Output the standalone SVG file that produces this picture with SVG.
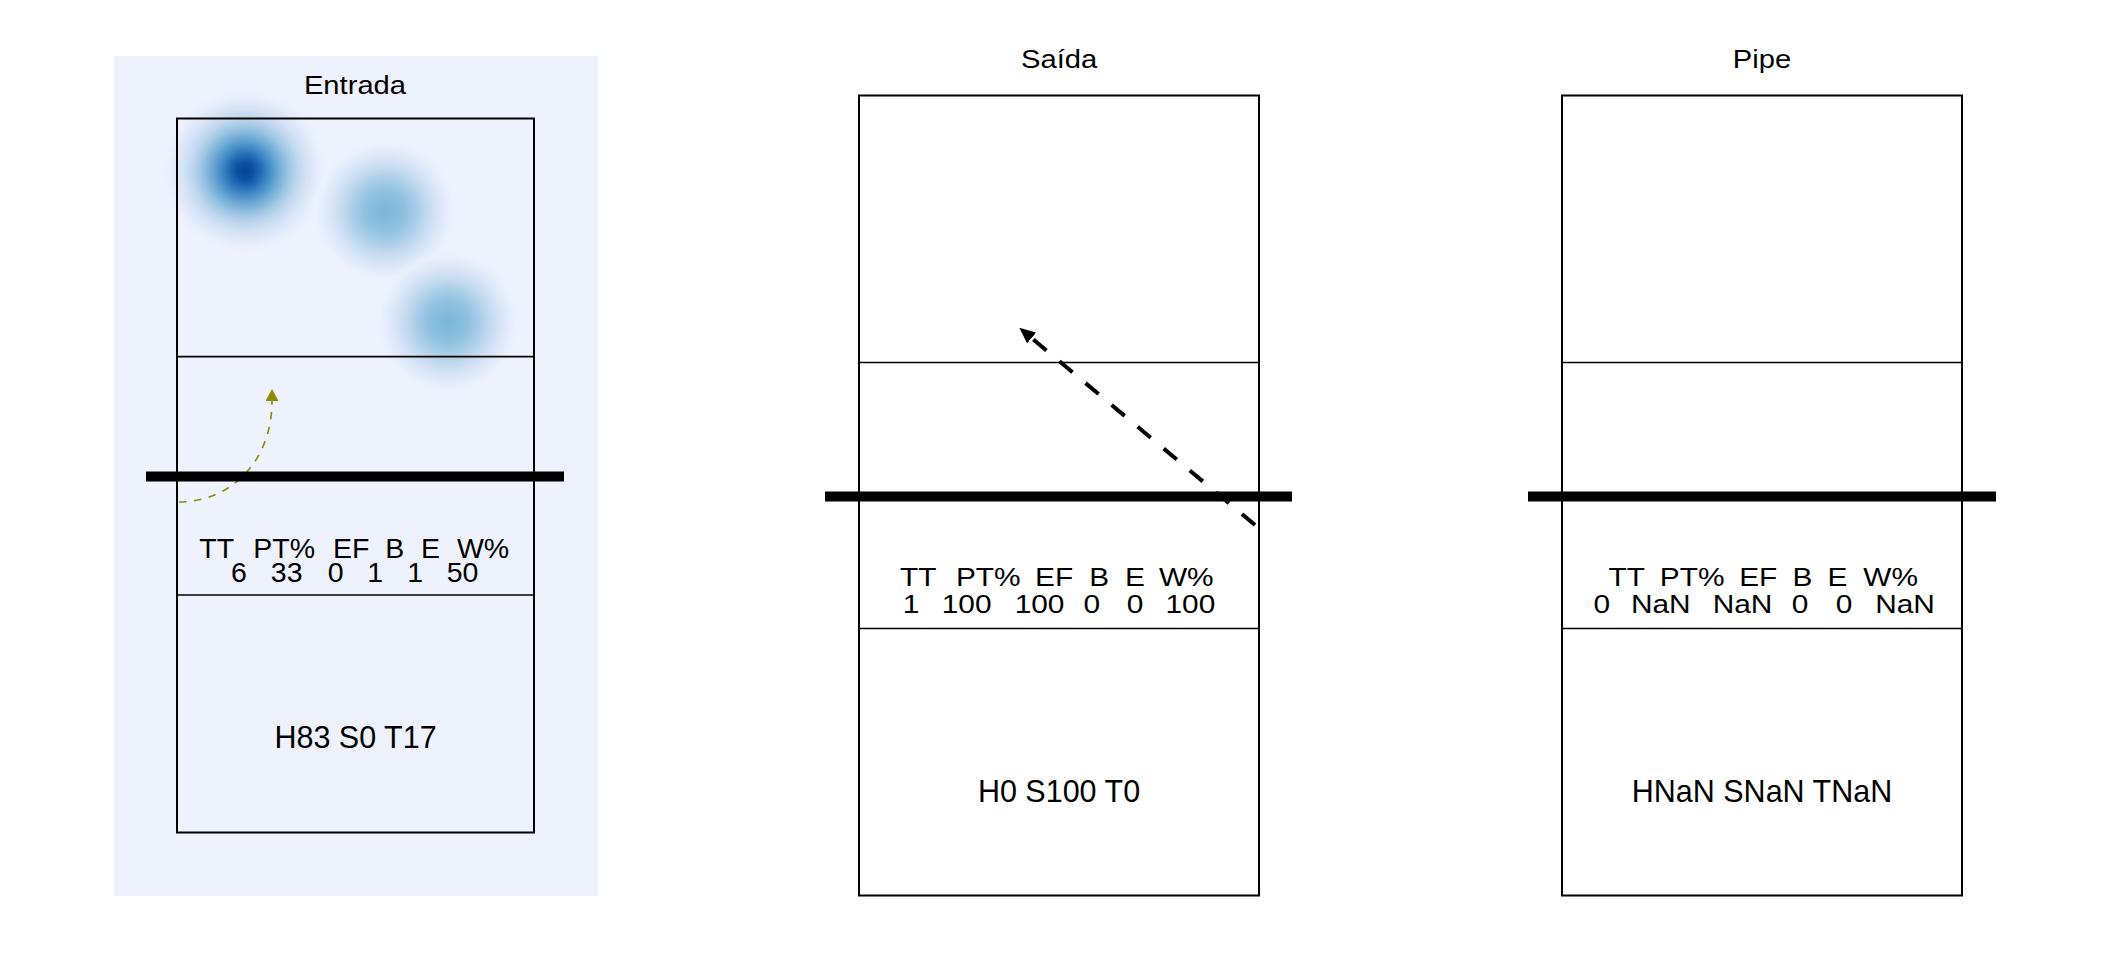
<svg xmlns="http://www.w3.org/2000/svg" width="2112" height="960" viewBox="0 0 2112 960">
<style>
  .bg { fill: #EEF2FD; }
  .court { fill: none; stroke: #000; stroke-width: 2; }
  .line3 { stroke: #000; stroke-width: 1.7; }
  .net { stroke: #000; stroke-width: 10; }
  .title { font-family: "Liberation Sans", Arial, sans-serif; font-size: 26.5px; fill: #000; text-anchor: middle; }
  .stat { font-family: "Liberation Sans", Arial, sans-serif; font-size: 28.5px; fill: #000; text-anchor: middle; }
  .stat2 { font-family: "Liberation Sans", Arial, sans-serif; font-size: 25.5px; fill: #000; text-anchor: middle; }
  .zone { font-family: "Liberation Sans", Arial, sans-serif; font-size: 30.5px; fill: #000; text-anchor: middle; }
  .olive { fill: none; stroke: #8E8C00; stroke-width: 1.6; stroke-dasharray: 7.5 7.5; }
  .black { fill: none; stroke: #000; stroke-width: 4; stroke-dasharray: 17 17; }
</style>
<defs>
  <radialGradient id="blobDark">
    <stop offset="0" stop-color="#06449A"/>
    <stop offset="0.09" stop-color="#0B4E9F"/>
    <stop offset="0.18" stop-color="#2068B0"/>
    <stop offset="0.27" stop-color="#3F86C4"/>
    <stop offset="0.39" stop-color="#6BA9D4"/>
    <stop offset="0.52" stop-color="#9DC6E2"/>
    <stop offset="0.63" stop-color="#BFD7EE"/>
    <stop offset="0.74" stop-color="#D5E3F5"/>
    <stop offset="0.86" stop-color="#E5ECFA"/>
    <stop offset="1" stop-color="#EEF2FD" stop-opacity="0"/>
  </radialGradient>
  <radialGradient id="blobLight">
    <stop offset="0" stop-color="#7EB7DA"/>
    <stop offset="0.15" stop-color="#85BBDC"/>
    <stop offset="0.3" stop-color="#93C2E0"/>
    <stop offset="0.45" stop-color="#AACEE7"/>
    <stop offset="0.6" stop-color="#C5DBF0"/>
    <stop offset="0.75" stop-color="#DAE6F7"/>
    <stop offset="0.88" stop-color="#E7EDFA"/>
    <stop offset="1" stop-color="#EEF2FD" stop-opacity="0"/>
  </radialGradient>
  <marker id="ahBlack" markerUnits="userSpaceOnUse" markerWidth="16" markerHeight="14" refX="0" refY="7" orient="auto" viewBox="0 0 16 14">
    <path d="M0,0 L16,7 L0,14 z" fill="#000"/>
  </marker>
  <marker id="ahOlive" markerUnits="userSpaceOnUse" markerWidth="12" markerHeight="13" refX="0" refY="6.5" orient="auto" viewBox="0 0 12 13">
    <path d="M0,0 L12,6.5 L0,13 z" fill="#8E8C00"/>
  </marker>
</defs>

<rect width="2112" height="960" fill="#FFFFFF"/>

<g id="entrada">
  <rect class="bg" x="114" y="56" width="484" height="840"/>
  <g id="entrada-heat">
    <circle cx="245" cy="171" r="84" fill="url(#blobDark)"/>
    <circle cx="385" cy="211" r="72" fill="url(#blobLight)"/>
    <circle cx="448" cy="322" r="72" fill="url(#blobLight)"/>
  </g>
  <g transform="scale(1.1,1)"><text class="title" x="322.7" y="94">Entrada</text></g>
  <rect class="court" x="177" y="118.5" width="357" height="714"/>
  <line class="line3" x1="177" y1="356.7" x2="534" y2="356.7"/>
  <line class="line3" x1="177" y1="595" x2="534" y2="595"/>
  <text class="stat"><tspan x="216.7" y="558.3">TT</tspan><tspan x="284.2" y="558.3">PT%</tspan><tspan x="351.3" y="558.3">EF</tspan><tspan x="394.7" y="558.3">B</tspan><tspan x="430.5" y="558.3">E</tspan><tspan x="483" y="558.3">W%</tspan><tspan x="238.9" y="581.7">6</tspan><tspan x="286.7" y="581.7">33</tspan><tspan x="335.8" y="581.7">0</tspan><tspan x="375.3" y="581.7">1</tspan><tspan x="415.3" y="581.7">1</tspan><tspan x="462.5" y="581.7">50</tspan></text>
  <text class="zone" x="355.5" y="748.3">H83 S0 T17</text>
</g>

<g id="saida">
  <g transform="scale(1.1,1)"><text class="title" x="962.9" y="67.7">Saída</text></g>
  <rect class="court" x="859" y="95.5" width="400" height="800" fill="#FFFFFF"/>
  <line class="line3" x1="859" y1="362.5" x2="1259" y2="362.5"/>
  <line class="line3" x1="859" y1="628.5" x2="1259" y2="628.5"/>
  <g transform="scale(1.17,1)">
    <text class="stat2"><tspan x="784.9" y="586">TT</tspan><tspan x="844.7" y="586">PT%</tspan><tspan x="901.0" y="586">EF</tspan><tspan x="939.5" y="586">B</tspan><tspan x="970.1" y="586">E</tspan><tspan x="1013.9" y="586">W%</tspan><tspan x="778.6" y="613.3">1</tspan><tspan x="826.2" y="613.3">100</tspan><tspan x="888.5" y="613.3">100</tspan><tspan x="933.1" y="613.3">0</tspan><tspan x="970.1" y="613.3">0</tspan><tspan x="1017.4" y="613.3">100</tspan></text>
  </g>
  <text class="zone" x="1059" y="801.7">H0 S100 T0</text>
</g>

<g id="pipe">
  <g transform="scale(1.1,1)"><text class="title" x="1601.8" y="67.7">Pipe</text></g>
  <rect class="court" x="1562" y="95.5" width="400" height="800" fill="#FFFFFF"/>
  <line class="line3" x1="1562" y1="362.5" x2="1962" y2="362.5"/>
  <line class="line3" x1="1562" y1="628.5" x2="1962" y2="628.5"/>
  <g transform="scale(1.17,1)">
    <text class="stat2"><tspan x="1390.3" y="586">TT</tspan><tspan x="1446.3" y="586">PT%</tspan><tspan x="1502.8" y="586">EF</tspan><tspan x="1540.6" y="586">B</tspan><tspan x="1570.5" y="586">E</tspan><tspan x="1616.0" y="586">W%</tspan><tspan x="1369.0" y="613.3">0</tspan><tspan x="1419.5" y="613.3">NaN</tspan><tspan x="1489.3" y="613.3">NaN</tspan><tspan x="1538.5" y="613.3">0</tspan><tspan x="1576.2" y="613.3">0</tspan><tspan x="1628.2" y="613.3">NaN</tspan></text>
  </g>
  <text class="zone" x="1762" y="801.7">HNaN SNaN TNaN</text>
</g>

<g id="connectors">
  <path class="olive" d="M179,502 C230,502 272,462 272,401" marker-end="url(#ahOlive)"/>
  <path class="black" d="M1255,525 L1031.6,338" marker-end="url(#ahBlack)"/>
</g>

<g id="nets">
  <line class="net" x1="146" y1="476.5" x2="564" y2="476.5"/>
  <line class="net" x1="825" y1="496.5" x2="1292" y2="496.5"/>
  <line class="net" x1="1528" y1="496.5" x2="1996" y2="496.5"/>
</g>
</svg>
